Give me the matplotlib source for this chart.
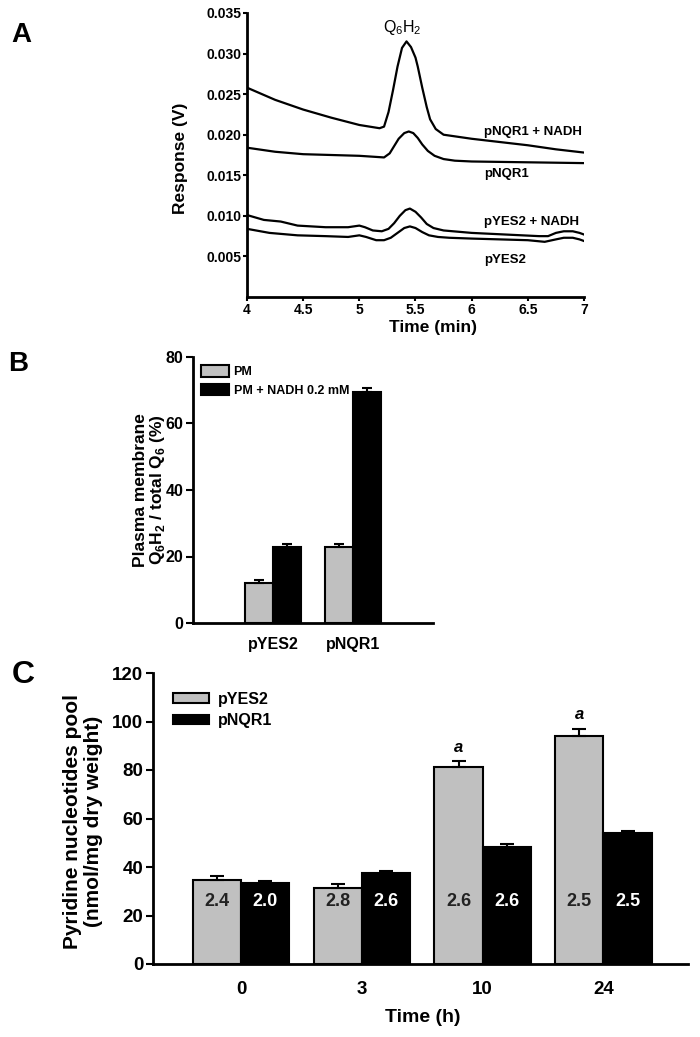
import matplotlib
matplotlib.use('Agg')
import matplotlib.pyplot as plt

plt.rcParams['font.family'] = 'Liberation Sans'
plt.rcParams['mathtext.fontset'] = 'custom'
plt.rcParams['mathtext.rm'] = 'Liberation Sans'
plt.rcParams['mathtext.bf'] = 'Liberation Sans:bold'

# ---- panel A: chromatograms ----
t_nqr1_nadh = [4.0, 4.25, 4.5, 4.75, 5.0, 5.18, 5.22, 5.26, 5.30, 5.34, 5.38, 5.42, 5.46, 5.50, 5.52, 5.56,
               5.60, 5.63, 5.68, 5.75, 5.85, 6.0, 6.25, 6.5, 6.75, 7.0]
v_nqr1_nadh = [0.0258, 0.0243, 0.0231, 0.0221, 0.0212, 0.0208, 0.0210, 0.0228, 0.0255, 0.0284, 0.0307, 0.0315,
               0.0308, 0.0295, 0.0284, 0.0258, 0.0234, 0.0219, 0.0207, 0.0200, 0.0198, 0.0195, 0.0191, 0.0187,
               0.0182, 0.0178]
t_nqr1 = [4.0, 4.25, 4.5, 4.75, 5.0, 5.22, 5.27, 5.31, 5.35, 5.40, 5.44, 5.48, 5.52, 5.56, 5.61, 5.67, 5.75,
          5.85, 6.0, 6.5, 7.0]
v_nqr1 = [0.0184, 0.0179, 0.0176, 0.0175, 0.0174, 0.0172, 0.0177, 0.0186, 0.0195, 0.0202, 0.0204, 0.0202,
          0.0196, 0.0188, 0.0180, 0.0174, 0.0170, 0.0168, 0.0167, 0.0166, 0.0165]
t_yes2_nadh = [4.0, 4.15, 4.3, 4.45, 4.7, 4.9, 5.0, 5.05, 5.12, 5.2, 5.26, 5.31, 5.36, 5.41, 5.45, 5.50, 5.55,
               5.6, 5.66, 5.75, 6.0, 6.3, 6.6, 6.68, 6.75, 6.82, 6.9, 6.96, 7.0]
v_yes2_nadh = [0.0101, 0.0095, 0.0093, 0.0088, 0.0086, 0.0086, 0.0088, 0.0086, 0.0082, 0.0081, 0.0084, 0.0091,
               0.0100, 0.0107, 0.0109, 0.0105, 0.0098, 0.0090, 0.0085, 0.0082, 0.0079, 0.0077, 0.0075, 0.0075,
               0.0079, 0.0081, 0.0081, 0.0079, 0.0077]
t_yes2 = [4.0, 4.2, 4.45, 4.7, 4.9, 5.0, 5.06, 5.15, 5.22, 5.28, 5.34, 5.40, 5.45, 5.5, 5.56, 5.62, 5.7, 5.8,
          6.0, 6.5, 6.65, 6.75, 6.82, 6.9, 6.96, 7.0]
v_yes2 = [0.0084, 0.0079, 0.0076, 0.0075, 0.0074, 0.0076, 0.0074, 0.0070, 0.0070, 0.0073, 0.0079, 0.0085,
          0.0087, 0.0085, 0.0080, 0.0076, 0.0074, 0.0073, 0.0072, 0.0070, 0.0068, 0.0071, 0.0073, 0.0073,
          0.0071, 0.0069]
trace_labels = ['pNQR1 + NADH', 'pNQR1', 'pYES2 + NADH', 'pYES2']
trace_label_y = [0.0203, 0.0151, 0.0093, 0.0046]

# ---- panel B ----
b_groups = ['pYES2', 'pNQR1']
b_pm = [12.0, 23.0]
b_pm_err = [0.8, 0.7]
b_nadh = [23.0, 69.4]
b_nadh_err = [0.7, 1.4]

# ---- panel C ----
c_times = ['0', '3', '10', '24']
c_yes2 = [34.7, 31.5, 81.3, 94.1]
c_yes2_err = [1.4, 1.6, 2.5, 3.0]
c_nqr1 = [33.3, 37.4, 48.4, 53.9]
c_nqr1_err = [0.8, 0.9, 1.2, 0.8]
c_yes2_ratio = ['2.4', '2.8', '2.6', '2.5']
c_nqr1_ratio = ['2.0', '2.6', '2.6', '2.5']
c_sig = ['', '', 'a', 'a']

gray = '#c0c0c0'
W, H = 700, 1037
fig = plt.figure(figsize=(7, 10.37), dpi=100)

def box(l, t, r, b):
    return [l / W, 1 - b / H, (r - l) / W, (b - t) / H]

# ================= A =================
ax = fig.add_axes(box(247, 13, 584, 297))
for t, v in [(t_nqr1_nadh, v_nqr1_nadh), (t_nqr1, v_nqr1), (t_yes2_nadh, v_yes2_nadh), (t_yes2, v_yes2)]:
    ax.plot(t, v, color='black', lw=1.6, solid_joinstyle='round')
ax.set_xlim(4, 7)
ax.set_ylim(0, 0.035)
ax.set_xticks([4, 4.5, 5, 5.5, 6, 6.5, 7])
ax.set_xticklabels(['4', '4.5', '5', '5.5', '6', '6.5', '7'])
ax.set_yticks([0.005, 0.010, 0.015, 0.020, 0.025, 0.030, 0.035])
ax.set_yticklabels(['0.005', '0.010', '0.015', '0.020', '0.025', '0.030', '0.035'])
for s in ['top', 'right']:
    ax.spines[s].set_visible(False)
for s in ['left', 'bottom']:
    ax.spines[s].set_linewidth(2)
ax.tick_params(axis='both', direction='out', length=3, width=1.5, labelsize=10, pad=1)
for lab in ax.get_xticklabels() + ax.get_yticklabels():
    lab.set_fontweight('bold')
ax.set_ylabel('Response (V)', fontsize=12.5, fontweight='bold')
ax.yaxis.set_label_coords(-0.175, 0.49)
ax.set_xlabel('Time (min)', fontsize=12.5, fontweight='bold', va='top')
ax.xaxis.set_label_coords(0.552, -0.08)
for lab, y in zip(trace_labels, trace_label_y):
    ax.text(6.11, y, lab, fontsize=9.5, fontweight='bold', va='center', ha='left')
ax.text(5.38, 0.0320, 'Q$_\\mathrm{6}$H$_\\mathrm{2}$', fontsize=11.5, ha='center', va='bottom')

# ================= B =================
ax = fig.add_axes(box(193, 357, 433, 623))
xb = [1, 2]
bw = 0.35
ax.bar([x - bw / 2 for x in xb], b_pm, bw, color=gray, edgecolor='black', linewidth=1.5,
       yerr=[[0, 0], b_pm_err], error_kw=dict(capsize=3.5, elinewidth=1.5, capthick=1.5), label='PM')
ax.bar([x + bw / 2 for x in xb], b_nadh, bw, color='black', edgecolor='black', linewidth=1.5,
       yerr=[[0, 0], b_nadh_err], error_kw=dict(capsize=3.5, elinewidth=1.5, capthick=1.5), label='PM + NADH 0.2 mM')
ax.set_xlim(0, 3)
ax.set_ylim(0, 80)
ax.set_yticks([0, 20, 40, 60, 80])
ax.set_xticks(xb)
ax.set_xticklabels(b_groups)
for s in ['top', 'right']:
    ax.spines[s].set_visible(False)
for s in ['left', 'bottom']:
    ax.spines[s].set_linewidth(2)
ax.tick_params(axis='y', direction='out', length=5, width=1.5, labelsize=11.5, pad=2)
ax.tick_params(axis='x', length=0, labelsize=11.5, pad=10)
for lab in ax.get_xticklabels() + ax.get_yticklabels():
    lab.set_fontweight('bold')
ax.set_ylabel('Plasma membrane\nQ$_\\mathbf{6}$H$_\\mathbf{2}$ / total Q$_\\mathbf{6}$ (%)',
              fontsize=12.5, fontweight='bold', linespacing=1.0)
ax.yaxis.set_label_coords(-0.11, 0.5)
ax.legend(loc='upper left', bbox_to_anchor=(0.0, 1.0), frameon=False,
          handlelength=2.25, handleheight=1.05, handletextpad=0.35, labelspacing=0.45,
          prop=dict(weight='bold', size=9.0), borderaxespad=0.25)

# ================= C =================
ax = fig.add_axes(box(153, 673, 688, 964))
xc = list(range(len(c_times)))
cw = 0.40
ax.bar([x - cw / 2 for x in xc], c_yes2, cw, color=gray, edgecolor='black', linewidth=1.5,
       yerr=[[0] * 4, c_yes2_err], error_kw=dict(capsize=5, elinewidth=1.5, capthick=1.5), label='pYES2')
ax.bar([x + cw / 2 for x in xc], c_nqr1, cw, color='black', edgecolor='black', linewidth=1.5,
       yerr=[[0] * 4, c_nqr1_err], error_kw=dict(capsize=5, elinewidth=1.5, capthick=1.5), label='pNQR1')
for i in xc:
    ax.text(i - cw / 2, 25.8, c_yes2_ratio[i], color='#222222', fontsize=13, fontweight='bold', ha='center', va='center')
    ax.text(i + cw / 2, 25.8, c_nqr1_ratio[i], color='white', fontsize=13, fontweight='bold', ha='center', va='center')
    if c_sig[i]:
        ax.text(i - cw / 2, c_yes2[i] + c_yes2_err[i] + 2.5, c_sig[i], fontsize=12, fontweight='bold',
                style='italic', ha='center', va='bottom')
ax.set_xlim(-0.73, 3.7)
ax.set_ylim(0, 120)
ax.set_yticks([0, 20, 40, 60, 80, 100, 120])
ax.set_xticks(xc)
ax.set_xticklabels(c_times)
for s in ['top', 'right']:
    ax.spines[s].set_visible(False)
for s in ['left', 'bottom']:
    ax.spines[s].set_linewidth(2)
ax.tick_params(axis='y', direction='out', length=5, width=1.5, labelsize=13.5, pad=2)
ax.tick_params(axis='x', length=0, labelsize=13.5, pad=12)
for lab in ax.get_xticklabels() + ax.get_yticklabels():
    lab.set_fontweight('bold')
ax.set_ylabel('Pyridine nucleotides pool\n(nmol/mg dry weight)', fontsize=15, fontweight='bold', linespacing=1.15)
ax.yaxis.set_label_coords(-0.093, 0.49)
ax.set_xlabel('Time (h)', fontsize=14, fontweight='bold', va='top')
ax.xaxis.set_label_coords(0.505, -0.155)
ax.legend(loc='upper left', bbox_to_anchor=(0.01, 0.985), frameon=False,
          handlelength=2.3, handleheight=0.55, handletextpad=0.5, labelspacing=0.4,
          prop=dict(weight='bold', size=11.5))

# panel letters
fig.text(11 / W, 1 - 22 / H, 'A', fontsize=20, fontweight='bold', va='top')
fig.text(8 / W, 1 - 351 / H, 'B', fontsize=20, fontweight='bold', va='top')
fig.text(12 / W, 1 - 660 / H, 'C', fontsize=23, fontweight='bold', va='top')

fig.savefig('out.png', dpi=100)
